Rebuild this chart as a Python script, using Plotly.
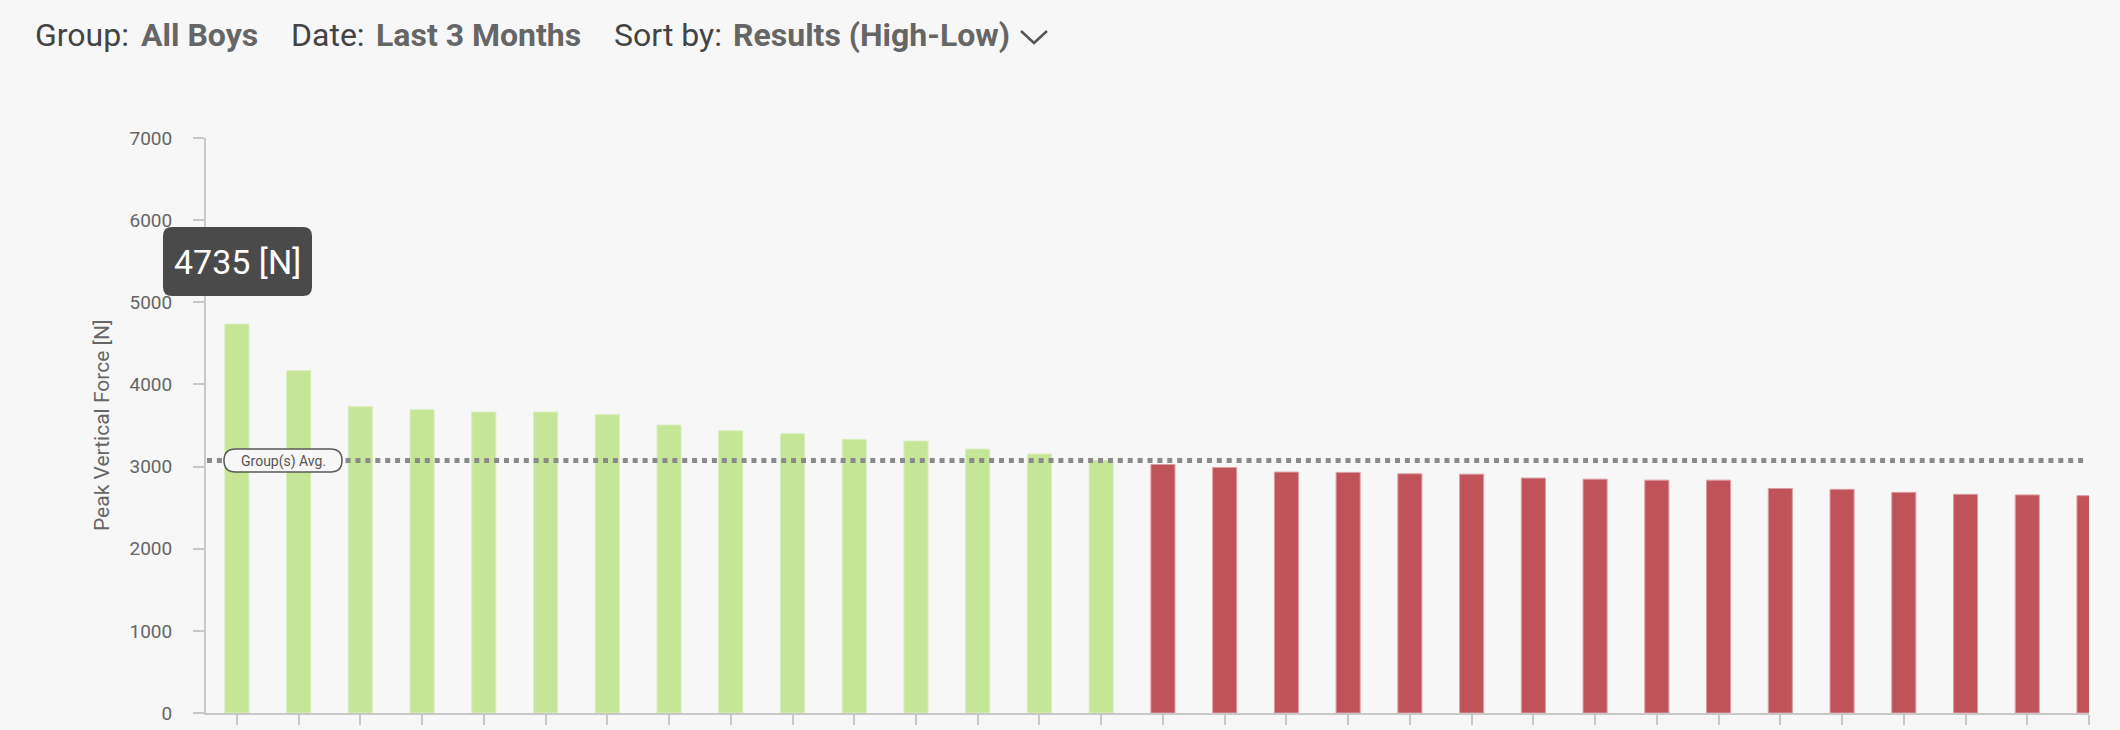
import plotly.graph_objects as go

# ---------------- data ----------------
athletes = [f"Athlete {i+1}" for i in range(31)]
peak_force = [4735, 4167, 3728, 3692, 3664, 3664, 3631, 3505, 3436, 3400,
              3330, 3310, 3213, 3152, 3077,
              3026, 2989, 2933, 2929, 2912, 2908, 2860, 2847, 2835, 2835,
              2733, 2723, 2686, 2662, 2655, 2646]
group_avg = 3075
y_ticks = [0, 1000, 2000, 3000, 4000, 5000, 6000, 7000]
tooltip_value = 4735
header_labels = ["Group:", "Date:", "Sort by:"]
header_values = ["All Boys", "Last 3 Months", "Results (High-Low)"]

GREEN = "#c5e597"
RED = "#c0535a"
BG = "#f7f7f7"

W, H = 2120, 730
ML, MR, MT, MB = 206, 31, 138, 17
PW, PH = W - ML - MR, H - MT - MB


def px(x):
    return (x - ML) / PW


def py(y):
    return (H - MB - y) / PH


colors = [GREEN if v >= group_avg else RED for v in peak_force]
line_colors = ["#d8eebb" if v >= group_avg else "#dc9ea3" for v in peak_force]

fig = go.Figure()
fig.add_trace(go.Bar(
    x=athletes, y=peak_force, width=0.39,
    marker=dict(color=colors, line=dict(color=line_colors, width=1)),
    hoverinfo="skip", showlegend=False,
))

# group average dotted line
fig.add_shape(type="line", xref="paper", yref="y",
              x0=px(207), x1=px(2086), y0=group_avg, y1=group_avg,
              line=dict(color="#8a8a8a", width=5, dash="5px,4.9px"), layer="above")


def rounded_rect(x0, y0, x1, y1, r):
    def P(x, y):
        return f"{px(x)},{py(y)}"
    return (f"M {P(x0 + r, y0)} L {P(x1 - r, y0)} Q {P(x1, y0)} {P(x1, y0 + r)} "
            f"L {P(x1, y1 - r)} Q {P(x1, y1)} {P(x1 - r, y1)} "
            f"L {P(x0 + r, y1)} Q {P(x0, y1)} {P(x0, y1 - r)} "
            f"L {P(x0, y0 + r)} Q {P(x0, y0)} {P(x0 + r, y0)} Z")


# "Group(s) Avg." pill
fig.add_shape(type="path", xref="paper", yref="paper",
              path=rounded_rect(224, 449, 342, 472, 11.5),
              fillcolor=BG, line=dict(color="#5a5a5a", width=1.5), layer="above")
fig.add_annotation(xref="paper", yref="paper", x=px(283), y=py(461),
                   text="Group(s) Avg.", showarrow=False,
                   font=dict(family="Roboto", size=14, color="#555555"),
                   xanchor="center", yanchor="middle")

# tooltip
fig.add_shape(type="path", xref="paper", yref="paper",
              path=rounded_rect(163, 227, 312, 296, 9),
              fillcolor="#4a4a4a", line=dict(width=0), layer="above")
fig.add_annotation(xref="paper", yref="paper", x=px(237.5), y=py(262),
                   text=f"{tooltip_value} [N]", showarrow=False,
                   font=dict(family="Roboto", size=34, color="#ffffff"),
                   xanchor="center", yanchor="middle")

# y-axis title
fig.add_annotation(xref="paper", yref="paper", x=px(102), y=py(425),
                   text="Peak Vertical Force [N]", showarrow=False, textangle=-90,
                   font=dict(family="Roboto", size=21, color="#666666"),
                   xanchor="center", yanchor="middle")

# header
header_x = [(33, 139), (289, 374), (612, 731)]
for (lx, vx), lab, val in zip(header_x, header_labels, header_values):
    fig.add_annotation(xref="paper", yref="paper", x=px(lx), y=py(35.5),
                       text=lab, showarrow=False, xanchor="left", yanchor="middle",
                       font=dict(family="Roboto", size=32, color="#444444"))
    fig.add_annotation(xref="paper", yref="paper", x=px(vx), y=py(35.5),
                       text=f"<b>{val}</b>", showarrow=False, xanchor="left",
                       yanchor="middle",
                       font=dict(family="Roboto", size=32, color="#666666"))
# chevron
fig.add_shape(type="path", xref="paper", yref="paper",
              path=f"M {px(1021)},{py(31)} L {px(1034)},{py(43)} L {px(1047)},{py(31)}",
              line=dict(color="#555555", width=2.5))

fig.update_layout(
    width=W, height=H,
    margin=dict(l=ML, r=MR, t=MT, b=MB, pad=0, autoexpand=False),
    paper_bgcolor=BG, plot_bgcolor=BG,
    bargap=0.6,
    xaxis=dict(
        type="category", range=[-0.5, 30], showticklabels=False,
        showline=True, linecolor="#c8c8c8", linewidth=2,
        ticks="outside", ticklen=10, tickwidth=2, tickcolor="#c8c8c8",
        showgrid=False, zeroline=False, automargin=False,
    ),
    yaxis=dict(
        range=[0, 7000], tickvals=y_ticks,
        showline=True, linecolor="#c8c8c8", linewidth=2,
        ticks="outside", ticklen=11, tickwidth=2, tickcolor="#c8c8c8",
        showgrid=False, zeroline=False, automargin=False,
        tickfont=dict(family="Roboto", size=19, color="#666666"),
        ticklabelstandoff=17,
    ),
)

fig.write_html(
    "out.html",
    config={"displayModeBar": False},
    post_script="document.body.style.margin='0';document.body.style.overflow='hidden';"
                "document.body.style.background='#f7f7f7';",
)
